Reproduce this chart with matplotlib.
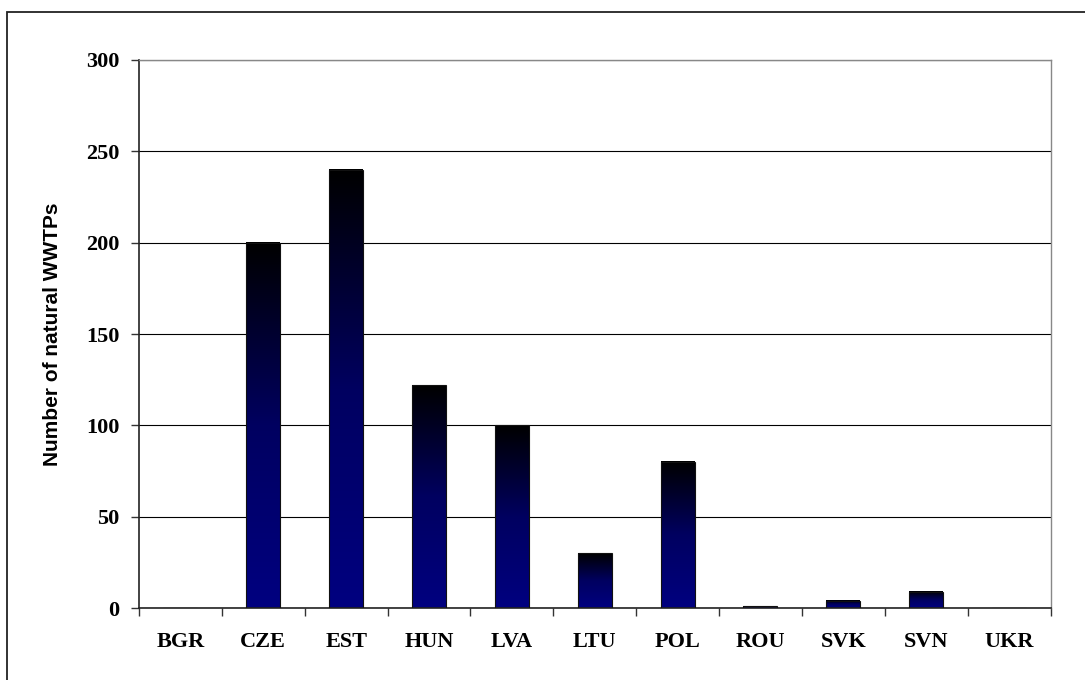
import numpy as np
import matplotlib
matplotlib.use("Agg")
import matplotlib.pyplot as plt
from matplotlib.colors import LinearSegmentedColormap
from matplotlib.patches import Rectangle

countries = ["BGR", "CZE", "EST", "HUN", "LVA", "LTU", "POL", "ROU", "SVK", "SVN", "UKR"]
wwtps = [0, 200, 240, 122, 100, 30, 80, 1, 4, 9, 0]
y_ticks = [0, 50, 100, 150, 200, 250, 300]
y_label = "Number of natural WWTPs"

W, H = 1085, 680
fig = plt.figure(figsize=(W / 100, H / 100), dpi=100)
ax_w_px = 1050.5 - 139
ax = fig.add_axes([139 / W, 1 - 608 / H, ax_w_px / W, (608 - 60) / H])

# figure border
fig.patches.append(Rectangle((7 / W, 0 - 0.01), 1.02, 1 - 12 / H + 0.01,
                             transform=fig.transFigure, fill=False,
                             edgecolor="#222222", linewidth=1.3, zorder=0))

x = np.arange(len(countries))
bars = ax.bar(x, wwtps, width=0.41, facecolor="none", edgecolor="#111111",
              linewidth=0.8, zorder=3)

cmap = LinearSegmentedColormap.from_list("g", ["#000000", "#000060", "#000080"])
grad = np.linspace(0, 1, 256).reshape(-1, 1)
for b in bars:
    h = b.get_height()
    if h <= 0:
        continue
    x0 = b.get_x()
    ax.imshow(grad, cmap=cmap, aspect="auto", origin="upper",
              extent=(x0, x0 + b.get_width(), 0, h), zorder=2,
              interpolation="bilinear")

ax.set_xlim(-0.5, len(countries) - 0.5)
ax.set_ylim(0, 300)
ax.set_yticks(y_ticks)
ax.yaxis.grid(True, color="#000000", linewidth=0.8, zorder=1)
ax.set_axisbelow(True)

ax.set_xticks(np.arange(len(countries) + 1) - 0.5, minor=False)
ax.set_xticklabels([""] * (len(countries) + 1))
ax.set_xticks(x, minor=True)
ax.set_xticklabels(countries, minor=True)
ax.tick_params(axis="x", which="major", direction="out", length=6, width=1, color="#333333")
ax.tick_params(axis="x", which="minor", length=0, pad=17)
ax.tick_params(axis="y", direction="out", length=6, width=1, color="#333333", pad=8)

for lbl in ax.get_xticklabels(minor=True) + ax.get_yticklabels():
    lbl.set_fontfamily("Liberation Serif")
    lbl.set_fontweight("bold")
    lbl.set_fontsize(16)

for s in ["left", "bottom"]:
    ax.spines[s].set_color("#222222")
    ax.spines[s].set_linewidth(1.2)
for s in ["right", "top"]:
    ax.spines[s].set_color("#888888")
    ax.spines[s].set_linewidth(1.0)

ax.set_ylabel(y_label, fontfamily="Liberation Sans", fontweight="bold", fontsize=15)
ax.yaxis.set_label_coords(-(139 - 62) / ax_w_px, 0.5)

fig.savefig("out.png", dpi=100)
